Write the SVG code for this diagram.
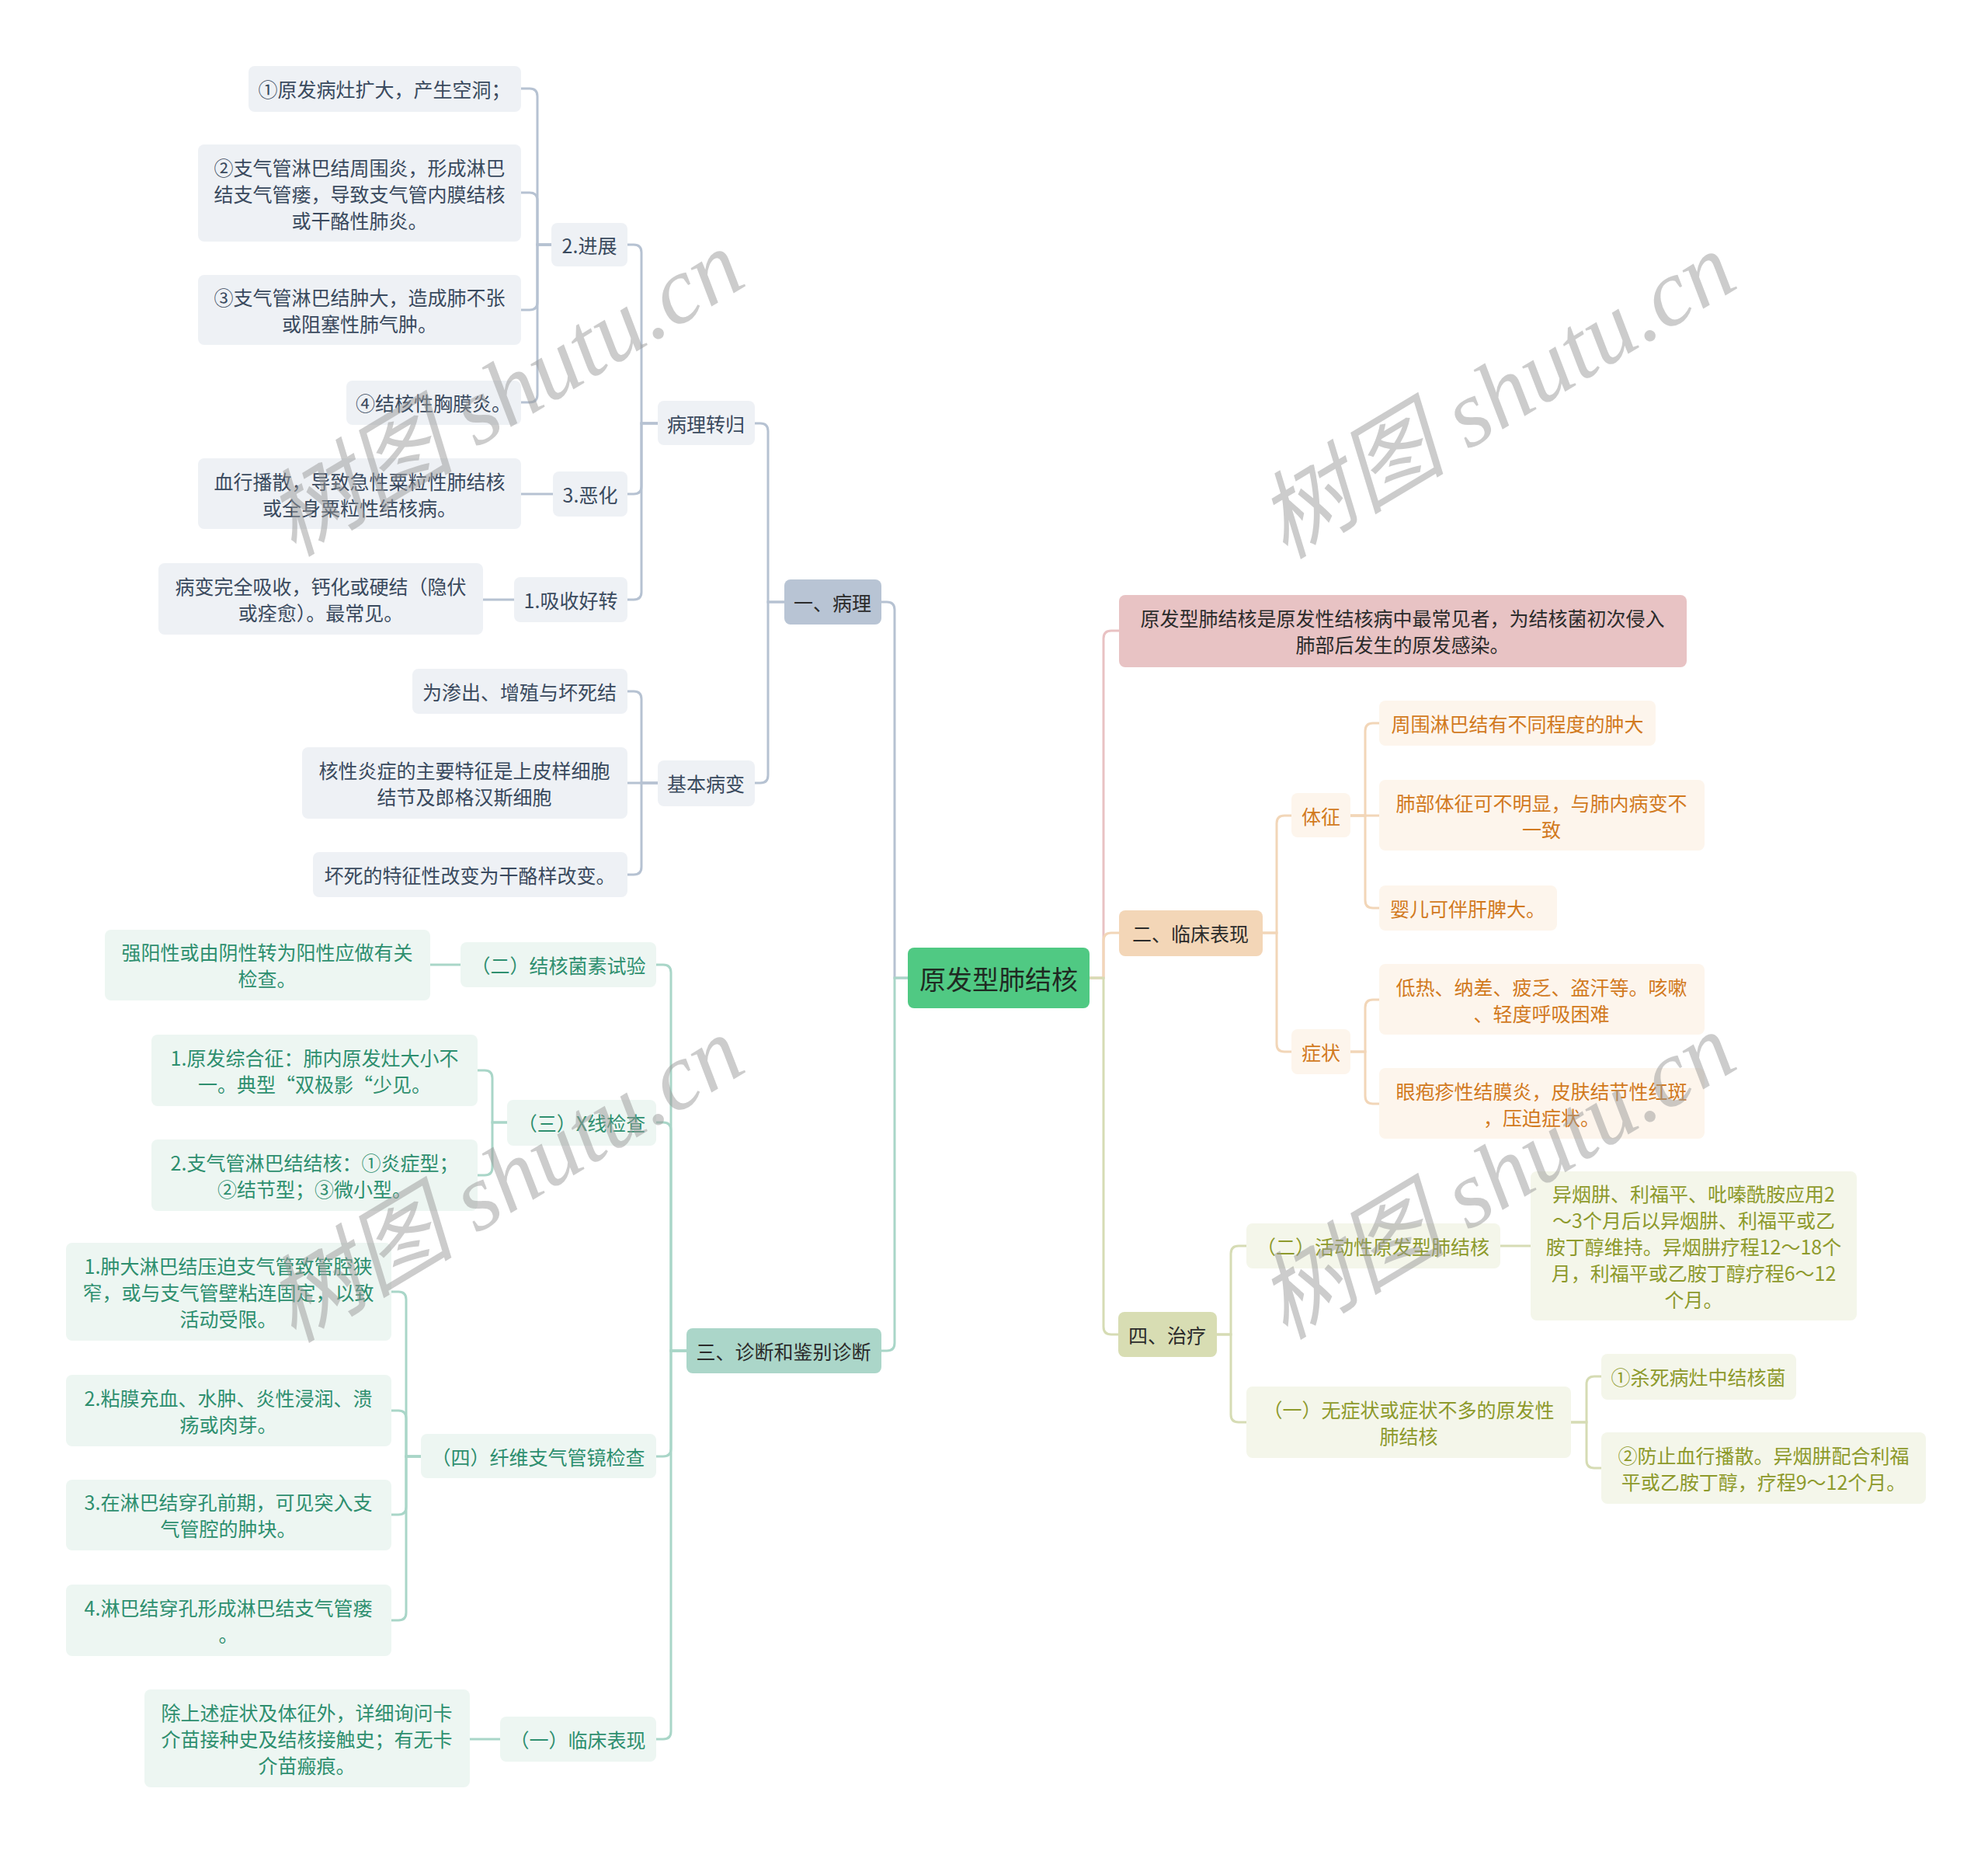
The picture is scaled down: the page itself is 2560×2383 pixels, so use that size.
<svg xmlns="http://www.w3.org/2000/svg" width="2560" height="2383" viewBox="0 0 2560 2383">
<style>
text{font-family:"Noto Sans CJK SC","Liberation Sans",sans-serif;font-size:25px;text-anchor:middle;dominant-baseline:central}
.root rect{fill:#50C983}
.root text{font-size:34px;fill:#1F2A22}
.l1 text{fill:#2B2B2B}
.g rect{fill:#EEF1F5} .g text{fill:#3A4A5E}
.t rect{fill:#EDF6F2} .t text{fill:#2E8F6F}
.o rect{fill:#FDF5EC} .o text{fill:#D27A1E}
.v rect{fill:#F4F6EA} .v text{fill:#8E9A2C}
.cg{stroke:#B6C2D2} .ct{stroke:#A9D6C8} .co{stroke:#F2D6B8} .cv{stroke:#D6DCB4} .cp{stroke:#E9C2C3}
#connectors path{fill:none;stroke-width:3}
.wm{font-family:"Liberation Serif","Noto Sans CJK SC",serif;font-size:122px;font-style:italic;fill:#9A9A9A;opacity:0.5}
</style>
<rect width="2560" height="2383" fill="#FFFFFF"/>
<g id="connectors">
<path class="cg" d="M1169 1259 H1152 V785 Q1152 775 1142 775 H1135"/>
<path class="ct" d="M1169 1259 H1152 V1729 Q1152 1739 1142 1739 H1135"/>
<path class="cp" d="M1403 1259 H1421 V822 Q1421 812 1431 812 H1441"/>
<path class="co" d="M1403 1259 H1421 V1211 Q1421 1201 1431 1201 H1441"/>
<path class="cv" d="M1403 1259 H1421 V1708 Q1421 1718 1431 1718 H1440"/>
<path class="cg" d="M1010 775 H989 V555 Q989 545 979 545 H972"/>
<path class="cg" d="M1010 775 H989 V998 Q989 1008 979 1008 H972"/>
<path class="cg" d="M847 545 H826 V325 Q826 315 816 315 H808"/>
<path class="cg" d="M847 545 H826 V626 Q826 636 816 636 H808"/>
<path class="cg" d="M847 545 H826 V762 Q826 772 816 772 H808"/>
<path class="cg" d="M710 315 H692 V124 Q692 114 682 114 H671"/>
<path class="cg" d="M710 315 H692 V258 Q692 248 682 248 H671"/>
<path class="cg" d="M710 315 H692 V389 Q692 399 682 399 H671"/>
<path class="cg" d="M710 315 H692 V508 Q692 518 682 518 H671"/>
<path class="cg" d="M712 636 H671"/>
<path class="cg" d="M662 772 H622"/>
<path class="cg" d="M847 1008 H826 V900 Q826 890 816 890 H808"/>
<path class="cg" d="M847 1008 H808"/>
<path class="cg" d="M847 1008 H826 V1116 Q826 1126 816 1126 H808"/>
<path class="ct" d="M884 1739 H864 V1252 Q864 1242 854 1242 H845"/>
<path class="ct" d="M884 1739 H864 V1455 Q864 1445 854 1445 H845"/>
<path class="ct" d="M884 1739 H864 V1865 Q864 1875 854 1875 H845"/>
<path class="ct" d="M884 1739 H864 V2229 Q864 2239 854 2239 H845"/>
<path class="ct" d="M593 1242 H554"/>
<path class="ct" d="M653 1445 H634 V1388 Q634 1378 624 1378 H615"/>
<path class="ct" d="M653 1445 H634 V1503 Q634 1513 624 1513 H615"/>
<path class="ct" d="M542 1875 H523 V1673 Q523 1663 513 1663 H504"/>
<path class="ct" d="M542 1875 H523 V1826 Q523 1816 513 1816 H504"/>
<path class="ct" d="M542 1875 H523 V1940 Q523 1950 513 1950 H504"/>
<path class="ct" d="M542 1875 H523 V2076 Q523 2086 513 2086 H504"/>
<path class="ct" d="M644 2239 H605"/>
<path class="co" d="M1626 1201 H1644 V1060 Q1644 1050 1654 1050 H1663"/>
<path class="co" d="M1626 1201 H1644 V1344 Q1644 1354 1654 1354 H1663"/>
<path class="co" d="M1739 1050 H1758 V941 Q1758 931 1768 931 H1776"/>
<path class="co" d="M1739 1050 H1776"/>
<path class="co" d="M1739 1050 H1758 V1159 Q1758 1169 1768 1169 H1776"/>
<path class="co" d="M1739 1354 H1758 V1297 Q1758 1287 1768 1287 H1776"/>
<path class="co" d="M1739 1354 H1758 V1411 Q1758 1421 1768 1421 H1776"/>
<path class="cv" d="M1567 1718 H1585 V1614 Q1585 1604 1595 1604 H1605"/>
<path class="cv" d="M1567 1718 H1585 V1821 Q1585 1831 1595 1831 H1605"/>
<path class="cv" d="M1932 1604 H1971"/>
<path class="cv" d="M2023 1831 H2043 V1782 Q2043 1772 2053 1772 H2062"/>
<path class="cv" d="M2023 1831 H2043 V1880 Q2043 1890 2053 1890 H2062"/>
</g>
<g id="root" class="root"><rect x="1169" y="1220" width="234" height="78" rx="8"/><text x="1286" y="1259">原发型肺结核</text></g>
<g id="n1" class="l1"><rect x="1010" y="746" width="125" height="58" rx="8" fill="#B8C4D4"/><text x="1072" y="775">一、病理</text></g>
<g id="n3" class="l1"><rect x="884" y="1710" width="251" height="58" rx="8" fill="#ABD6C9"/><text x="1009" y="1739">三、诊断和鉴别诊断</text></g>
<g id="nDesc" class="l1"><rect x="1441" y="766" width="731" height="93" rx="8" fill="#E8C3C4"/><text x="1806" y="795">原发型肺结核是原发性结核病中最常见者，为结核菌初次侵入</text><text x="1806" y="829">肺部后发生的原发感染。</text></g>
<g id="n2" class="l1"><rect x="1441" y="1172" width="185" height="59" rx="8" fill="#F3D6B7"/><text x="1533" y="1201">二、临床表现</text></g>
<g id="n4" class="l1"><rect x="1440" y="1689" width="127" height="58" rx="8" fill="#D8DDB3"/><text x="1503" y="1718">四、治疗</text></g>

<g id="n1a" class="g"><rect x="847" y="516" width="125" height="57" rx="8"/><text x="909" y="545">病理转归</text></g>
<g id="n1b" class="g"><rect x="847" y="979" width="125" height="59" rx="8"/><text x="909" y="1008">基本病变</text></g>
<g id="n1a2" class="g"><rect x="710" y="287" width="98" height="56" rx="8"/><text x="759" y="315">2.进展</text></g>
<g id="n1a3" class="g"><rect x="712" y="607" width="96" height="58" rx="8"/><text x="760" y="636">3.恶化</text></g>
<g id="n1a1" class="g"><rect x="662" y="743" width="146" height="58" rx="8"/><text x="735" y="772">1.吸收好转</text></g>
<g id="p1" class="g"><rect x="320" y="85" width="351" height="59" rx="8"/><text x="495" y="114">①原发病灶扩大，产生空洞；</text></g>
<g id="p2" class="g"><rect x="255" y="186" width="416" height="125" rx="8"/><text x="463" y="215">②支气管淋巴结周围炎，形成淋巴</text><text x="463" y="249">结支气管瘘，导致支气管内膜结核</text><text x="463" y="283">或干酪性肺炎。</text></g>
<g id="p3" class="g"><rect x="255" y="354" width="416" height="90" rx="8"/><text x="463" y="382">③支气管淋巴结肿大，造成肺不张</text><text x="463" y="416">或阻塞性肺气肿。</text></g>
<g id="p4" class="g"><rect x="446" y="490" width="225" height="57" rx="8"/><text x="558" y="518">④结核性胸膜炎。</text></g>
<g id="p5" class="g"><rect x="255" y="590" width="416" height="91" rx="8"/><text x="463" y="619">血行播散，导致急性粟粒性肺结核</text><text x="463" y="653">或全身粟粒性结核病。</text></g>
<g id="p6" class="g"><rect x="204" y="725" width="418" height="92" rx="8"/><text x="413" y="754">病变完全吸收，钙化或硬结（隐伏</text><text x="413" y="788">或痊愈）。最常见。</text></g>
<g id="b1" class="g"><rect x="531" y="861" width="277" height="58" rx="8"/><text x="669" y="890">为渗出、增殖与坏死结</text></g>
<g id="b2" class="g"><rect x="389" y="962" width="419" height="92" rx="8"/><text x="598" y="991">核性炎症的主要特征是上皮样细胞</text><text x="598" y="1025">结节及郎格汉斯细胞</text></g>
<g id="b3" class="g"><rect x="403" y="1097" width="405" height="58" rx="8"/><text x="605" y="1126">坏死的特征性改变为干酪样改变。</text></g>

<g id="d2" class="t"><rect x="593" y="1213" width="252" height="58" rx="8"/><text x="719" y="1242">（二）结核菌素试验</text></g>
<g id="d2a" class="t"><rect x="135" y="1197" width="419" height="91" rx="8"/><text x="344" y="1225">强阳性或由阴性转为阳性应做有关</text><text x="344" y="1259">检查。</text></g>
<g id="d3" class="t"><rect x="653" y="1416" width="192" height="59" rx="8"/><text x="749" y="1445">（三）X线检查</text></g>
<g id="d3a" class="t"><rect x="195" y="1332" width="420" height="92" rx="8"/><text x="405" y="1361">1.原发综合征：肺内原发灶大小不</text><text x="405" y="1395">一。典型“双极影“少见。</text></g>
<g id="d3b" class="t"><rect x="195" y="1467" width="420" height="92" rx="8"/><text x="405" y="1496">2.支气管淋巴结结核：①炎症型；</text><text x="405" y="1530">②结节型；③微小型。</text></g>
<g id="d4" class="t"><rect x="542" y="1846" width="303" height="57" rx="8"/><text x="693" y="1875">（四）纤维支气管镜检查</text></g>
<g id="d4a" class="t"><rect x="85" y="1600" width="419" height="126" rx="8"/><text x="294" y="1629">1.肿大淋巴结压迫支气管致管腔狭</text><text x="294" y="1663">窄，或与支气管壁粘连固定，以致</text><text x="294" y="1697">活动受限。</text></g>
<g id="d4b" class="t"><rect x="85" y="1770" width="419" height="92" rx="8"/><text x="294" y="1799">2.粘膜充血、水肿、炎性浸润、溃</text><text x="294" y="1833">疡或肉芽。</text></g>
<g id="d4c" class="t"><rect x="85" y="1905" width="419" height="91" rx="8"/><text x="294" y="1933">3.在淋巴结穿孔前期，可见突入支</text><text x="294" y="1967">气管腔的肿块。</text></g>
<g id="d4d" class="t"><rect x="85" y="2040" width="419" height="92" rx="8"/><text x="294" y="2069">4.淋巴结穿孔形成淋巴结支气管瘘</text><text x="294" y="2103">。</text></g>
<g id="d1" class="t"><rect x="644" y="2210" width="201" height="58" rx="8"/><text x="744" y="2239">（一）临床表现</text></g>
<g id="d1a" class="t"><rect x="186" y="2175" width="419" height="126" rx="8"/><text x="395" y="2204">除上述症状及体征外，详细询问卡</text><text x="395" y="2238">介苗接种史及结核接触史；有无卡</text><text x="395" y="2272">介苗瘢痕。</text></g>

<g id="c1" class="o"><rect x="1663" y="1021" width="76" height="57" rx="8"/><text x="1701" y="1050">体征</text></g>
<g id="c2" class="o"><rect x="1663" y="1325" width="76" height="58" rx="8"/><text x="1701" y="1354">症状</text></g>
<g id="c1a" class="o"><rect x="1776" y="902" width="356" height="58" rx="8"/><text x="1954" y="931">周围淋巴结有不同程度的肿大</text></g>
<g id="c1b" class="o"><rect x="1776" y="1004" width="419" height="91" rx="8"/><text x="1985" y="1033">肺部体征可不明显，与肺内病变不</text><text x="1985" y="1067">一致</text></g>
<g id="c1c" class="o"><rect x="1776" y="1140" width="229" height="58" rx="8"/><text x="1890" y="1169">婴儿可伴肝脾大。</text></g>
<g id="c2a" class="o"><rect x="1776" y="1241" width="419" height="91" rx="8"/><text x="1985" y="1270">低热、纳差、疲乏、盗汗等。咳嗽</text><text x="1985" y="1304">、轻度呼吸困难</text></g>
<g id="c2b" class="o"><rect x="1776" y="1375" width="419" height="91" rx="8"/><text x="1985" y="1404">眼疱疹性结膜炎，皮肤结节性红斑</text><text x="1985" y="1438">，压迫症状。</text></g>

<g id="e2" class="v"><rect x="1605" y="1575" width="327" height="58" rx="8"/><text x="1768" y="1604">（二）活动性原发型肺结核</text></g>
<g id="e2a" class="v"><rect x="1971" y="1508" width="420" height="192" rx="8"/><text x="2181" y="1536">异烟肼、利福平、吡嗪酰胺应用2</text><text x="2181" y="1570">～3个月后以异烟肼、利福平或乙</text><text x="2181" y="1604">胺丁醇维持。异烟肼疗程12～18个</text><text x="2181" y="1638">月，利福平或乙胺丁醇疗程6～12</text><text x="2181" y="1672">个月。</text></g>
<g id="e1" class="v"><rect x="1605" y="1785" width="418" height="92" rx="8"/><text x="1814" y="1814">（一）无症状或症状不多的原发性</text><text x="1814" y="1848">肺结核</text></g>
<g id="e1a" class="v"><rect x="2062" y="1743" width="251" height="59" rx="8"/><text x="2187" y="1772">①杀死病灶中结核菌</text></g>
<g id="e1b" class="v"><rect x="2062" y="1844" width="418" height="92" rx="8"/><text x="2271" y="1873">②防止血行播散。异烟肼配合利福</text><text x="2271" y="1907">平或乙胺丁醇，疗程9～12个月。</text></g>

<g id="watermarks">
<text class="wm" transform="translate(650,506) rotate(-31)">树图 shutu.cn</text>
<text class="wm" transform="translate(1927,509) rotate(-31)">树图 shutu.cn</text>
<text class="wm" transform="translate(650,1518) rotate(-31)">树图 shutu.cn</text>
<text class="wm" transform="translate(1927,1514) rotate(-31)">树图 shutu.cn</text>
</g>
</svg>
